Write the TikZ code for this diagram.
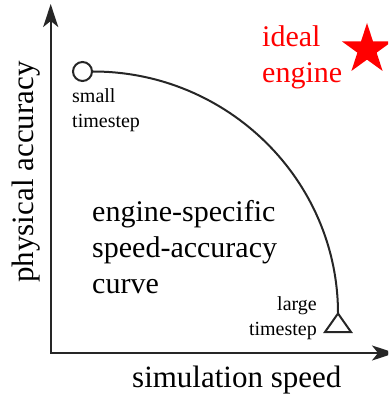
\documentclass[tikz,border=0pt]{standalone}
\usepackage{fontspec}
\setmainfont{Liberation Serif}
\usetikzlibrary{arrows.meta,shapes.geometric}
\begin{document}
\begin{tikzpicture}[x=1pt, y=-1pt,
  axis/.style={line width=2.2pt, draw=black!85,
    {Stealth[length=23pt, width=15pt, inset=6pt]}-{Stealth[length=23pt, width=15pt, inset=6pt]}},
  axislbl/.style={font=\fontsize{31}{37}\selectfont, inner sep=0pt},
  big/.style={font=\fontsize{30}{36}\selectfont, inner sep=0pt, align=left},
  small/.style={font=\fontsize{20}{25}\selectfont, inner sep=0pt},
  curve/.style={line width=2pt, draw=black!85},
  marker/.style={curve, fill=white}
]
\clip (0,0) rectangle (388,398);
\coordinate (O) at (50.7,353);
\coordinate (ytip) at (50.7,4);
\coordinate (xtip) at (395,353);
\draw[axis] (ytip) -- (O) -- (xtip);
\node[axislbl, anchor=base west] (xl) at (132,387) {simulation speed};
\node[axislbl, rotate=90, anchor=base] (yl) at (33,172) {physical accuracy};
\node[star, star points=5, star point ratio=2.618, minimum size=53pt,
  fill=red, inner sep=0pt] (ideal) at (367,49.5) {};
\node[big, text=red, anchor=base west] (idlbl) at (262,83) {ideal\\engine};
\node[marker, circle, minimum size=19pt, inner sep=0pt] (st) at (82.5,71.5) {};
\coordinate (lt) at (338,313.5);
\draw[curve] (st.east) .. controls +(135,0) and +(0,-133) .. (lt);
\draw[marker] (lt) -- ++(13,18.5) -- ++(-26,0) -- cycle;
\node[small, anchor=base west, align=left] (stl) at (72,128) {small\\timestep};
\node[small, anchor=base east, align=right] (ltl) at (317,335) {large\\timestep};
\node[big, anchor=base west] (cl) at (92,293)
  {engine-specific\\speed-accuracy\\curve};
\end{tikzpicture}
\end{document}
